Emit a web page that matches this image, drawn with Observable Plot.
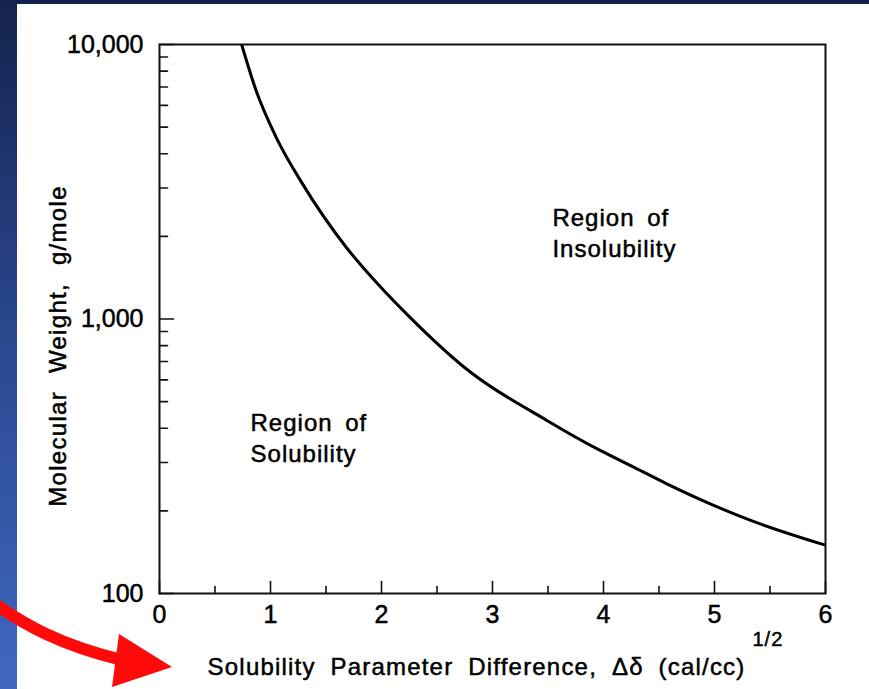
<!DOCTYPE html>
<html><head><meta charset="utf-8">
<script src="https://cdn.jsdelivr.net/npm/d3@7"></script>
<script src="https://cdn.jsdelivr.net/npm/@observablehq/plot@0.6"></script>
<style>
body{margin:0;background:#fff}
#wrap{position:relative;width:869px;height:689px;overflow:hidden;background:#fff}
#topbar{position:absolute;left:0;top:0;width:869px;height:4px;background:#13224b}
#leftbar{position:absolute;left:0;top:0;width:17px;height:689px;background:linear-gradient(to bottom,#14234d,#2a4891 50%,#3f68c0)}
#chart{position:absolute;left:0;top:0}
#chart svg text{font-family:"Liberation Sans",Arial,Helvetica,sans-serif}
</style></head><body>
<div id="wrap"><div id="topbar"></div><div id="leftbar"></div><div id="chart"></div></div>
<script>
// Boundary curve: solubility parameter difference vs molecular weight
const deltaDelta = [0.74, 0.87, 1.05, 1.29, 1.68, 1.99, 2.25, 2.74, 3.49, 3.97, 4.24, 4.57, 5.32, 6.0];
const molWeight  = [10000, 6800, 4600, 3100, 1830, 1310, 1020, 670, 427, 332, 293, 251, 185, 150];

const xMajorTicks = [0, 1, 2, 3, 4, 5, 6];
const xMinorTicks = [0.5, 1.5, 2.5, 3.5, 4.5, 5.5];
const yMajorTicks = [100, 1000, 10000];
const yMinorTicks = [200, 300, 400, 500, 600, 700, 800, 900, 2000, 3000, 4000, 5000, 6000, 7000, 8000, 9000];
const yTickLabels = ["100", "1,000", "10,000"];

const xLabel = "Solubility Parameter Difference, Δδ (cal/cc)";
const xLabelSup = "1/2";
const yLabel = "Molecular Weight, g/mole";

const regionText = ["Region of\nInsolubility", "Region of\nSolubility"];
const regionX = [3.54, 0.82];
const regionY = [2080, 373];

const curve = deltaDelta.map((x, i) => ({x, y: molWeight[i]}));
const regions = regionText.map((t, i) => ({t, x: regionX[i], y: regionY[i]}));
const tickShape = {draw(ctx, l) { ctx.moveTo(0, 0); ctx.lineTo(0, -l); }};

const chart = Plot.plot({
  width: 869, height: 689,
  marginLeft: 159, marginRight: 44, marginTop: 44, marginBottom: 96,
  style: {background: "transparent", color: "#000", fontSize: "24px"},
  x: {domain: [0, 6]},
  y: {type: "log", domain: [100, 10000]},
  marks: [
    Plot.axisX({ticks: xMajorTicks, tickSize: 0, tickPadding: 12, tickFormat: d => String(d), label: null, fontSize: 25, ariaDescription: "xticks"}),
    Plot.axisY({ticks: yMajorTicks, tickSize: 0, tickPadding: 16, tickFormat: d => yTickLabels[yMajorTicks.indexOf(d)], label: null, fontSize: 25, ariaDescription: "yticks"}),
    Plot.vector(xMajorTicks, {x: d => d, frameAnchor: "bottom", length: 12, anchor: "start", shape: tickShape, stroke: "#111", strokeWidth: 1.6}),
    Plot.vector(xMinorTicks, {x: d => d, frameAnchor: "bottom", length: 7, anchor: "start", shape: tickShape, stroke: "#111", strokeWidth: 1.6}),
    Plot.vector(yMajorTicks, {y: d => d, frameAnchor: "left", rotate: 90, length: 14, anchor: "start", shape: tickShape, stroke: "#111", strokeWidth: 1.6}),
    Plot.vector(yMinorTicks, {y: d => d, frameAnchor: "left", rotate: 90, length: 8, anchor: "start", shape: tickShape, stroke: "#111", strokeWidth: 1.6}),
    Plot.line(curve, {x: "x", y: "y", curve: "monotone-x", stroke: "#000", strokeWidth: 3, clip: true}),
    Plot.frame({stroke: "#111", strokeWidth: 2}),
    Plot.text(regions, {x: "x", y: "y", text: "t", textAnchor: "start", lineAnchor: "middle", lineHeight: 1.3, fontSize: 24, fill: "#000", ariaDescription: "region"}),
    Plot.text([xLabel], {text: d => d, frameAnchor: "bottom-left", dx: 586, dy: 74, textAnchor: "end", lineAnchor: "middle", fontSize: 24, fill: "#000", ariaDescription: "xlabel"}),
    Plot.text([xLabelSup], {text: d => d, frameAnchor: "bottom-left", dx: 593, dy: 46, textAnchor: "start", lineAnchor: "middle", fontSize: 20, fill: "#000", ariaDescription: "xsup"}),
    Plot.text([yLabel], {text: d => d, frameAnchor: "left", rotate: -90, dx: -101, dy: 27, textAnchor: "middle", lineAnchor: "middle", fontSize: 24, fill: "#000", ariaDescription: "ylabel"})
  ]
});
document.getElementById("chart").appendChild(chart);

const svg = d3.select(chart);
svg.selectAll("text").style("stroke", "#000").style("stroke-width", "0.5px");
svg.selectAll('[aria-description="xlabel"] text').style("letter-spacing", "1.2px").style("word-spacing", "7px");
svg.selectAll('[aria-description="ylabel"] text').style("letter-spacing", "1.3px").style("word-spacing", "10px");
svg.selectAll('[aria-description="region"] text').style("letter-spacing", "1px").style("word-spacing", "5px");
svg.selectAll('[aria-description="xsup"] text').style("letter-spacing", "1px");

// Decorative red pointer arrow toward the x-axis title
svg.append("path").attr("d", "M-6,603 C25,625 60,645 122,660").attr("fill", "none").attr("stroke", "#ff0a0a").attr("stroke-width", 12);
svg.append("path").attr("d", "M119,634 L172,667 L112,687 Z").attr("fill", "#ff0a0a");
</script>
</body></html>
